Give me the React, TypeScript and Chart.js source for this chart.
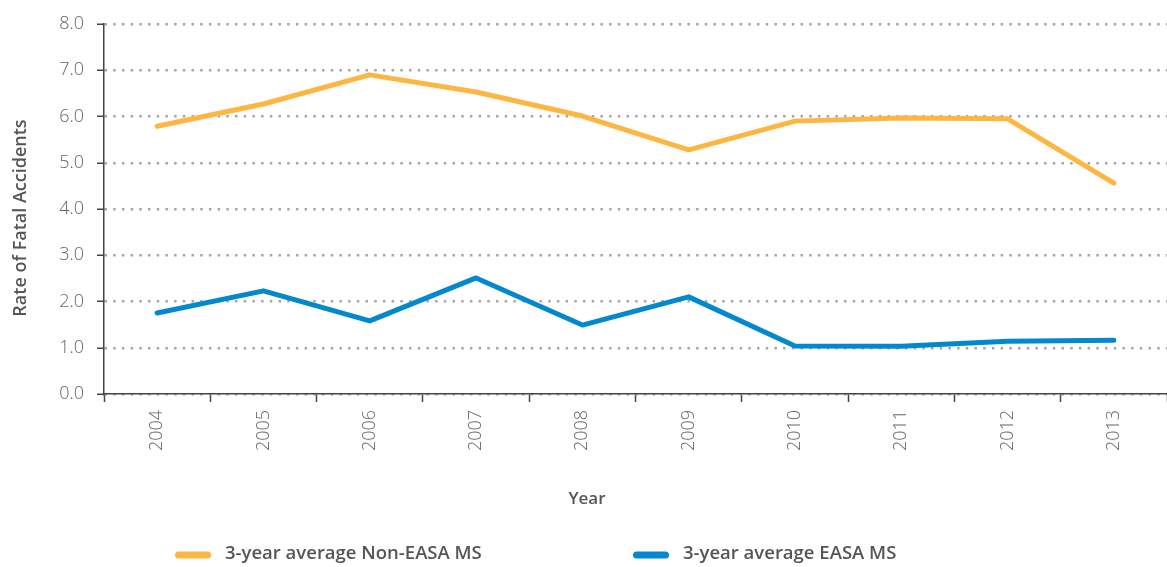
import React, { useEffect, useRef } from "react";
import { Chart, registerables } from "chart.js";

Chart.register(...registerables);

const years = ["2004", "2005", "2006", "2007", "2008", "2009", "2010", "2011", "2012", "2013"];
const nonEasa = [5.79, 6.27, 6.9, 6.53, 6.01, 5.28, 5.9, 5.97, 5.95, 4.56];
const easa = [1.75, 2.23, 1.58, 2.51, 1.49, 2.1, 1.04, 1.03, 1.14, 1.16];
const seriesLabels = ["3-year average Non-EASA MS", "3-year average EASA MS"];
const seriesColors = ["#FDB642", "#0288CF"];
const yTitle = "Rate of Fatal Accidents";
const xTitle = "Year";

const FONT = "'Open Sans', 'Noto Sans', sans-serif";

const overlayPlugin = {
  id: "overlayText",
  afterDraw(chart: any) {
    const ctx = chart.ctx;
    ctx.save();
    // y-axis title
    ctx.save();
    ctx.translate(21, 218);
    ctx.rotate(-Math.PI / 2);
    ctx.fillStyle = "#555";
    ctx.font = `600 18px ${FONT}`;
    ctx.textAlign = "center";
    ctx.textBaseline = "middle";
    ctx.fillText(yTitle, 0, 0);
    ctx.restore();
    // x-axis title
    ctx.fillStyle = "#555";
    ctx.font = `600 17px ${FONT}`;
    ctx.textAlign = "center";
    ctx.textBaseline = "middle";
    ctx.fillText(xTitle, 587, 499);
    // legend
    const starts = [175, 633];
    chart.data.datasets.forEach((ds: any, i: number) => {
      const x0 = starts[i];
      const y = 555;
      ctx.strokeStyle = ds.borderColor;
      ctx.lineWidth = 7;
      ctx.lineCap = "round";
      ctx.beginPath();
      ctx.moveTo(x0 + 3.5, y);
      ctx.lineTo(x0 + 32.5, y);
      ctx.stroke();
      ctx.fillStyle = "#555";
      ctx.font = `600 18.5px ${FONT}`;
      ctx.textAlign = "left";
      ctx.textBaseline = "middle";
      ctx.fillText(ds.label, x0 + 50, y - 1);
    });
    ctx.restore();
  },
};

export default function App() {
  const ref = useRef<HTMLCanvasElement>(null);
  useEffect(() => {
    if (!ref.current) return;
    const chart = new Chart(ref.current, {
      type: "line",
      data: {
        labels: years,
        datasets: [
          {
            label: seriesLabels[0],
            data: nonEasa,
            borderColor: seriesColors[0],
            backgroundColor: seriesColors[0],
            borderWidth: 5,
            pointRadius: 0,
            tension: 0,
            borderCapStyle: "round",
            borderJoinStyle: "round",
          },
          {
            label: seriesLabels[1],
            data: easa,
            borderColor: seriesColors[1],
            backgroundColor: seriesColors[1],
            borderWidth: 5,
            pointRadius: 0,
            tension: 0,
            borderCapStyle: "round",
            borderJoinStyle: "round",
          },
        ],
      },
      options: {
        responsive: false,
        animation: false,
        layout: { padding: { top: 24, right: 0, bottom: 0, left: 0 } },
        plugins: {
          legend: { display: false },
          tooltip: { enabled: false },
        },
        scales: {
          x: {
            offset: true,
            afterFit: (s: any) => {
              s.height = 173;
            },
            grid: {
              offset: true,
              drawOnChartArea: false,
              drawTicks: true,
              tickLength: 8,
              tickColor: "#444",
              tickWidth: 1.5,
            },
            border: { color: "#444", width: 1.5 },
            ticks: {
              minRotation: 90,
              maxRotation: 90,
              padding: 8,
              color: "#666",
              font: { family: FONT, size: 18, weight: "300" },
            },
          },
          y: {
            min: 0,
            max: 8,
            afterFit: (s: any) => {
              s.width = 104;
            },
            grid: {
              color: "#A6A6A6",
              lineWidth: 2.5,
              drawTicks: true,
              tickLength: 7,
              tickColor: "#444",
              tickWidth: 1.5,
              tickBorderDash: [],
            },
            border: { color: "#444", width: 1.5, dash: [2.5, 6.2] },
            ticks: {
              stepSize: 1,
              padding: 13,
              color: "#666",
              font: { family: FONT, size: 18, weight: "300" },
              callback: (v: any) => Number(v).toFixed(1),
            },
          },
        },
      },
      plugins: [overlayPlugin],
    });
    return () => chart.destroy();
  }, []);
  return (
    <div style={{ position: "absolute", left: 0, top: 0, width: 1167, height: 567, background: "#fff" }}>
      <canvas ref={ref} width={1167} height={567} />
    </div>
  );
}
